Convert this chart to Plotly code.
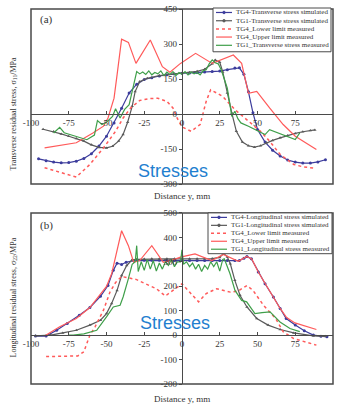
import plotly.graph_objects as go

# ---------------- data: panel (a) transverse ----------------
a_sim4_x = [-95, -90, -85, -80, -75, -70, -65, -60, -55, -50, -45, -40, -35, -30, -25, -20, -15, -10, -5, 0,
            5, 10, 15, 20, 25, 30, 35, 38, 41, 44, 47, 50, 55, 60, 65, 70, 75, 80, 85, 90, 95]
a_sim4_y = [-192, -200, -206, -209, -208, -202, -190, -170, -137, -95, -38, 25, 90, 128, 148, 156, 163, 168, 172, 175,
            176, 178, 180, 182, 184, 190, 197, 198, 170, 95, 5, -66, -120, -155, -180, -197, -206, -210, -210, -205, -196]

a_sim1_x = [-92, -85, -80, -75, -70, -65, -60, -55, -50, -46, -42, -39, -36, -33, -31, -28, -23, -15, -5, 0,
            5, 10, 15, 20, 22, 25, 27, 30, 33, 36, 40, 44, 48, 52, 56, 60, 65, 70, 75, 80, 85, 88]
a_sim1_y = [-65, -75, -85, -95, -105, -116, -132, -143, -145, -138, -116, -88, -35, 33, 97, 139, 153, 165, 172, 175,
            178, 183, 192, 215, 232, 222, 180, 90, 4, -74, -120, -136, -142, -136, -123, -113, -102, -92, -83, -76, -70, -68]

a_low_x = [-91, -70, -61, -52, -44, -39, -34, -28, -22, -16, -10, -6, -3, 0, 6, 12, 16, 19, 23, 27, 35, 43, 52,
           58, 65, 74, 80, 88]
a_low_y = [-230, -270, -216, -145, -74, -17, 26, 58, 66, 68, 54, 26, -20, -55, -74, -45, 54, 104, 90, 75, 19, -24, -74,
           -116, -173, -216, -226, -232]

a_up_x = [-91, -70, -59, -52, -49, -45, -43, -40, -35.5, -30.5, -21, -13, -8, -1, 9, 20, 34, 39.5, 44, 49.5, 58, 67, 75, 89]
a_up_y = [-145, -123, -81, -52, -17, 68, 168, 321, 307, 217, 317, 203, 179, 217, 260, 217, 253, 217, 89, 97, 26, -45, -95, -152]

a_meas1_x = [-85, -81, -78, -70, -63, -58, -56, -53, -50, -46, -44, -41, -38, -35, -32, -30, -28, -26, -24, -22, -20,
             -18, -16, -14, -12, -10, -8, -6, -4, -2, 0, 2, 4, 6, 8, 10, 12, 14, 16, 18, 20, 22, 24, 26, 28, 30,
             33, 35, 37, 39, 44, 49, 55, 58, 67, 70, 75, 78]
a_meas1_y = [-81, -57, -80, -95, -110, -90, -28, -45, -35, -10, 23, -17, 20, 40, 120, 182, 172, 180, 170, 185, 168,
             178, 172, 185, 165, 180, 170, 182, 165, 178, 170, 182, 168, 180, 172, 178, 168, 185, 190, 215, 232, 220,
             215, 189, 150, 111, -10, 12, -20, -38, -52, -67, -88, -67, -88, -95, -109, -81]

# ---------------- data: panel (b) longitudinal ----------------
b_sim4_x = [-97, -90, -83, -76, -68, -61, -54, -49, -45.5, -43, -40, -37, -32, -25, -20, -15, -10, -5, 0, 5, 10,
            15, 20, 25, 30, 35, 38, 41, 43, 46, 50.5, 55, 60.5, 65, 69, 75, 81, 87, 92, 96]
b_sim4_y = [-4, -4, 20, 48, 81, 113, 159, 203, 265, 294, 289, 298, 305, 306, 306, 306, 306, 305, 305, 305, 305,
            305, 305, 305, 305, 305, 305, 315, 322, 312, 258, 210, 156, 109, 68, 41, 18, 0, -5, -7]

b_sim1_x = [-97, -87, -79, -70, -61, -54, -50, -46.6, -43, -40, -36.6, -33, -30, -25, -20, -15, -10, -5, 0, 5, 10,
            15, 20, 25, 27.5, 30, 32, 35, 38.4, 43, 49.5, 57, 65, 74, 87, 95]
b_sim1_y = [-3, 0, 9, 20, 41, 61, 88, 129, 183, 244, 285, 308, 310, 311, 312, 312, 312, 312, 312, 312, 312,
            312, 313, 318, 335, 320, 292, 224, 163, 115, 68, 41, 23, 9, -3, -5]

b_low_x = [-90, -69, -65, -61, -57.6, -52, -47.7, -44, -40, -35, -30, -25, -17, -11, -6, 0, 5, 11, 16, 23, 32,
           37, 43, 47, 54, 62, 67, 74, 89]
b_low_y = [-88, -85, -68, 0, 34, 102, 176, 215, 240, 232, 227, 212, 190, 160, 183, 210, 176, 136, 170, 190, 176,
           180, 203, 183, 122, 68, 14, -14, -41]

b_up_x = [-91, -81, -70, -61, -50, -46.6, -40, -35.5, -32, -28, -20, -12.4, -5, -1, 8.6, 19.7, 27.4, 37.3, 42.8,
          46.2, 50.5, 55, 60.5, 65, 69.3, 74.8, 89]
b_up_y = [-4, 34, 68, 113, 199, 251, 427, 366, 298, 305, 366, 298, 310, 319, 332, 305, 330, 302, 322,
          312, 258, 210, 156, 109, 72, 50, 23]

b_meas1_x = [-75, -72, -65, -56.5, -50, -45.5, -41, -39, -35.5, -33, -31, -30, -29, -27, -25, -23, -21, -19, -17,
             -15, -13, -11, -9, -7, -5, -3, -1, 0, 1, 3, 5, 7, 9, 11, 13, 15, 17, 19, 21, 23, 25, 27, 28,
             31.8, 35.1, 39.5, 42.8, 48.3, 53, 58.3, 64.9, 71.5, 78]
b_meas1_y = [0, 0, 5, 20, 75, 115, 122, 156, 231, 290, 300, 366, 260, 300, 265, 310, 270, 305, 262,
             295, 270, 300, 285, 310, 280, 300, 300, 349, 290, 300, 280, 295, 270, 290, 260, 285, 270, 300, 280, 300, 262, 310, 312,
             251, 183, 142, 136, 88, 92, 95, 54, 27, 14]

x_ticks = [-100, -75, -50, -25, 0, 25, 50, 75, 100]
x_tick_text = ["-100", "-75", "-50", "-25", "0", "25", "50", "75", "100"]
a_y_ticks = [-300, -150, 0, 150, 300, 450]
a_y_tick_text = ["-300", "-150", "0", "150", "300", "450"]
b_y_ticks = [-200, -100, 0, 100, 200, 300, 400, 500]
b_y_tick_text = ["-200", "-100", "0", "100", "200", "300", "400", "500"]

a_names = ["TG4-Transverse stress simulated", "TG1-Transverse stress simulated", "TG4_Lower limit measured",
           "TG4_Upper limit measured", "TG1_Transverse stress measured"]
b_names = ["TG4-Longitudinal stress simulated", "TG1-Longitudinal stress simulated", "TG4_Lower limit measured",
           "TG4_Upper limit measured", "TG1_Longitudinal stress measured"]

# ---------------- layout geometry ----------------
W, H = 337, 405
L, R, T, B = 31, 4, 7, 21
PH = H - T - B
PW = W - L - R
def py(p):  # pixel y -> paper
    return (H - B - p) / PH
def px(p):  # pixel x -> paper
    return (p - L) / PW

a_dom = [py(183), 1.0]
b_dom = [0.0, py(212)]
a_rng = [-300, 450]
b_rng = [-200, 500]
def zero_pos(dom, rng):
    return dom[0] + (0 - rng[0]) / (rng[1] - rng[0]) * (dom[1] - dom[0])

BLUE = "#3c3c9c"
GREY = "#5a5a5a"
RED = "#ff5a5a"
GREEN = "#3f9f4a"
SERIF = "Liberation Serif"
AX = "#4a4a4a"

styles = [
    dict(mode="lines+markers", line=dict(color=BLUE, width=1.2), marker=dict(size=3, color=BLUE)),
    dict(mode="lines+markers", line=dict(color=GREY, width=1.2), marker=dict(size=3, color=GREY, symbol="triangle-up")),
    dict(mode="lines", line=dict(color=RED, width=1.5, dash="dot")),
    dict(mode="lines", line=dict(color=RED, width=1.2)),
    dict(mode="lines", line=dict(color=GREEN, width=1.2)),
]

fig = go.Figure()

def add_panel(xa, ya, names, series):
    for nm, (sx, sy), st in zip(names, series, styles):
        fig.add_trace(go.Scatter(x=sx, y=sy, name=nm, xaxis=xa, yaxis=ya, showlegend=False, **st))

add_panel("x", "y", a_names, [(a_sim4_x, a_sim4_y), (a_sim1_x, a_sim1_y), (a_low_x, a_low_y),
                              (a_up_x, a_up_y), (a_meas1_x, a_meas1_y)])
add_panel("x2", "y2", b_names, [(b_sim4_x, b_sim4_y), (b_sim1_x, b_sim1_y), (b_low_x, b_low_y),
                                (b_up_x, b_up_y), (b_meas1_x, b_meas1_y)])

tickfont = dict(family=SERIF, size=9, color="#333")
def xaxis(pos):
    return dict(domain=[0, 1], range=[-100, 100], anchor="free", position=pos, showline=True, linecolor=AX,
                linewidth=1.3, ticks="inside", ticklen=3, tickcolor=AX, tickvals=x_ticks, ticktext=x_tick_text,
                tickfont=tickfont, showgrid=False, zeroline=False)
def yaxis(dom, rng, tv, tt):
    return dict(domain=dom, range=rng, anchor="free", position=0.5, side="left", showline=True, linecolor=AX,
                linewidth=1.3, ticks="outside", ticklen=3, tickcolor=AX, tickvals=tv, ticktext=tt,
                tickfont=tickfont, showgrid=False, zeroline=False)

fig.update_layout(
    width=W, height=H, margin=dict(l=L, r=R, t=T, b=B),
    paper_bgcolor="white", plot_bgcolor="white", showlegend=False,
    xaxis=xaxis(zero_pos(a_dom, a_rng)),
    yaxis=yaxis(a_dom, a_rng, a_y_ticks, a_y_tick_text),
    xaxis2=xaxis(zero_pos(b_dom, b_rng)),
    yaxis2=yaxis(b_dom, b_rng, b_y_ticks, b_y_tick_text),
)

# panel frames
for yr in ["y domain", "y2 domain"]:
    fig.add_shape(type="rect", xref="x domain", yref=yr, x0=0, x1=1, y0=0, y1=1,
                  line=dict(color=AX, width=1.5), layer="above")

# legends drawn as boxes with sample lines and text
def draw_legend(names, box, rows, line_x):
    x0, x1, y0, y1 = box
    fig.add_shape(type="rect", xref="paper", yref="paper", x0=px(x0), x1=px(x1), y0=py(y1), y1=py(y0),
                  line=dict(color=AX, width=1), fillcolor="white", layer="above")
    for nm, ry, st in zip(names, rows, styles):
        ln = st["line"]
        dash = "dot" if ln.get("dash") == "dot" else "solid"
        fig.add_shape(type="line", xref="paper", yref="paper", x0=px(line_x[0]), x1=px(line_x[1]),
                      y0=py(ry), y1=py(ry), line=dict(color=ln["color"], width=ln["width"], dash=dash), layer="above")
        if "markers" in st["mode"]:
            cx = (line_x[0] + line_x[1]) / 2
            fig.add_shape(type="circle", xref="paper", yref="paper", x0=px(cx - 1.3), x1=px(cx + 1.3),
                          y0=py(ry + 1.3), y1=py(ry - 1.3), line=dict(color=ln["color"], width=0.8),
                          fillcolor=ln["color"], layer="above")
        fig.add_annotation(text=nm, x=px(line_x[1] + 1.5), y=py(ry), xref="paper", yref="paper", showarrow=False,
                           xanchor="left", yanchor="middle", font=dict(family=SERIF, size=7, color="#333"))

draw_legend(a_names, (213, 331, 6, 50), [10.5, 18.8, 27, 35.2, 43.5], (216, 232))
draw_legend(b_names, (208, 332, 212, 253), [216.5, 224.5, 232.5, 240.5, 248.5], (211, 227))

ann = [
    ("(a)", px(46), py(18), 11, 0),
    ("(b)", px(46), py(225), 11, 0),
    ("Distance y, mm", px(182), py(195), 9, 0),
    ("Distance y, mm", px(182), py(399), 9, 0),
    ("Transverse residual stress, σ<sub>11</sub>/MPa", px(14), py(113), 8, -90),
    ("Longitudinal residual stress, σ<sub>22</sub>/MPa", px(14), py(297), 8, -90),
]
for text, x, y, s, ang in ann:
    fig.add_annotation(text=text, x=x, y=y, xref="paper", yref="paper", showarrow=False, textangle=ang,
                       font=dict(family=SERIF, size=s, color="#333"), xanchor="center", yanchor="middle")

for x, y in [(px(173), py(170)), (px(175), py(323))]:
    fig.add_annotation(text="Stresses", x=x, y=y, xref="paper", yref="paper", showarrow=False,
                       font=dict(family="Liberation Sans", size=18, color="#1f7fcf"), xanchor="center", yanchor="middle")

fig.write_html("out.html", config={"displayModeBar": False},
               post_script="document.body.style.margin='0';document.body.style.padding='0';")
